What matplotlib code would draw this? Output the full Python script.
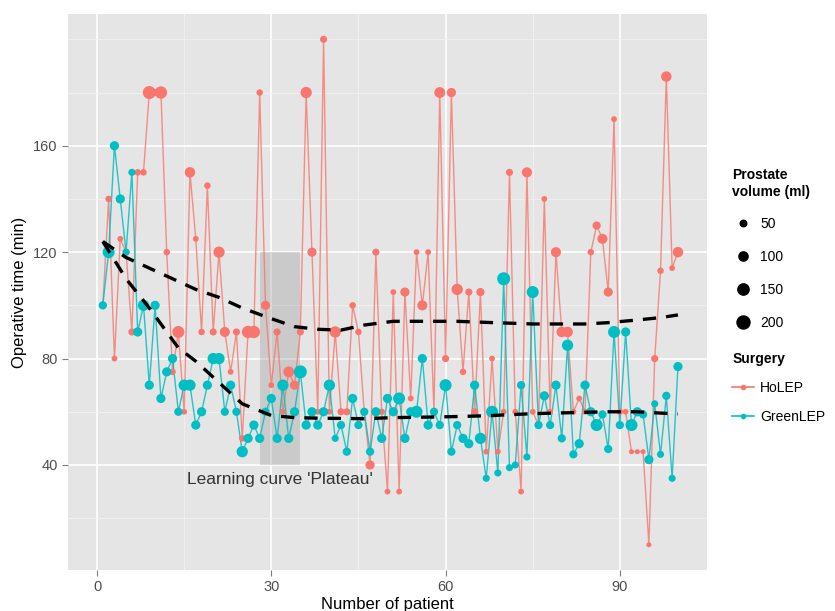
import matplotlib
matplotlib.use("Agg")
import matplotlib.pyplot as plt
from matplotlib.lines import Line2D
import numpy as np

plt.rcParams['font.family'] = ['Liberation Sans', 'DejaVu Sans']

# patient number 1..100
patient = list(range(1, 101))

holep_time = [100, 140, 80, 125, 120, 90, 150, 150, 180, 180,
              180, 120, 75, 90, 60, 150, 125, 90, 145, 90,
              120, 90, 75, 90, 50, 90, 90, 180, 100, 70,
              90, 60, 75, 70, 90, 180, 120, 60, 200, 60,
              90, 60, 60, 100, 90, 60, 40, 120, 60, 30,
              105, 30, 105, 65, 120, 100, 120, 60, 180, 80,
              180, 106, 75, 105, 60, 105, 45, 80, 45, 60,
              150, 60, 30, 150, 60, 55, 140, 60, 120, 90,
              90, 60, 65, 60, 120, 130, 125, 105, 170, 60,
              60, 45, 45, 45, 10, 80, 113, 186, 114, 120]
holep_vol = [60, 50, 40, 40, 60, 60, 50, 50, 200, 60,
             180, 50, 50, 170, 40, 130, 40, 50, 50, 60,
             150, 120, 40, 60, 50, 180, 180, 50, 100, 40,
             60, 40, 140, 100, 60, 150, 100, 40, 60, 40,
             150, 60, 60, 50, 50, 40, 100, 60, 50, 40,
             40, 40, 100, 40, 40, 120, 40, 40, 140, 60,
             100, 150, 50, 60, 60, 80, 40, 40, 40, 40,
             60, 40, 40, 120, 40, 40, 40, 40, 120, 130,
             130, 40, 40, 40, 50, 80, 120, 100, 40, 50,
             40, 30, 30, 30, 30, 60, 50, 130, 40, 130]

green_time = [100, 120, 160, 140, 120, 150, 90, 100, 70, 100,
              65, 75, 80, 60, 70, 70, 55, 60, 70, 80,
              80, 60, 70, 60, 45, 50, 55, 50, 60, 65,
              50, 70, 50, 60, 75, 55, 60, 55, 60, 70,
              50, 55, 45, 65, 55, 60, 45, 60, 50, 65,
              60, 65, 50, 60, 60, 80, 55, 60, 55, 70,
              45, 55, 50, 48, 70, 50, 35, 60, 37, 110,
              39, 40, 70, 43, 105, 55, 66, 55, 70, 50,
              85, 44, 48, 70, 60, 55, 59, 46, 90, 55,
              90, 55, 60, 59, 42, 63, 44, 66, 35, 77]
green_vol = [80, 170, 100, 100, 60, 60, 100, 150, 100, 100,
             100, 100, 100, 80, 150, 150, 100, 100, 100, 150,
             150, 80, 100, 80, 150, 100, 100, 100, 80, 100,
             100, 150, 100, 100, 200, 100, 100, 100, 100, 150,
             60, 80, 80, 100, 80, 80, 80, 100, 100, 100,
             100, 170, 100, 100, 170, 100, 100, 80, 80, 170,
             80, 80, 100, 100, 100, 150, 60, 170, 60, 200,
             60, 60, 80, 60, 170, 80, 100, 80, 100, 80,
             150, 80, 100, 100, 100, 170, 80, 80, 170, 80,
             100, 170, 100, 80, 100, 60, 60, 80, 60, 100]

# dashed smoothing curves
smooth_x = [1, 5, 9, 14, 17, 21, 25, 30, 34, 38, 42, 46, 51, 57, 62, 67, 75, 84, 88, 93, 97, 100]
holep_smooth = [124, 118, 114, 109, 106, 103, 99, 95, 92, 91, 90.7, 92.6, 94, 94, 94, 93.6, 93, 93, 93.5, 94.5, 95.4, 96.4]
green_smooth = [124, 110, 99, 84, 79, 71, 63, 58.6, 57.8, 57.6, 57.5, 57.4, 57.8, 58, 58.2, 58.5, 59.3, 59.8, 60, 60, 59.5, 59.2]

plateau_x = (28, 35)
plateau_y = (40, 120)

pink = '#F8766D'
teal = '#00BFC4'


def size_of(vol):
    return 0.44 * np.asarray(vol, dtype=float)


fig = plt.figure(figsize=(8.35, 6.11), dpi=100)
ax = fig.add_axes([0.0814, 0.067, 0.7653, 0.910])
ax.set_facecolor('#e5e5e5')

ax.set_xlim(-5, 105)
ax.set_ylim(0.5, 209.5)
ax.set_xticks([0, 30, 60, 90])
ax.set_xticks([15, 45, 75], minor=True)
ax.set_yticks([40, 80, 120, 160])
ax.set_yticks([20, 60, 100, 140, 180, 200], minor=True)
ax.grid(which='major', color='white', linewidth=1.2)
ax.grid(which='minor', color='#f2f2f2', linewidth=0.6)
ax.set_axisbelow(True)
for s in ax.spines.values():
    s.set_visible(False)
ax.tick_params(which='major', length=4, color='#7f7f7f', labelsize=10.5, labelcolor='#4d4d4d')
ax.tick_params(which='minor', length=0)

ax.add_patch(plt.Rectangle((plateau_x[0], plateau_y[0]), plateau_x[1] - plateau_x[0],
                           plateau_y[1] - plateau_y[0], facecolor='#9a9a9a', alpha=0.35,
                           edgecolor='none', zorder=1))

ax.plot(patient, holep_time, color=pink, linewidth=1.0, alpha=0.8, zorder=2)
ax.scatter(patient, holep_time, s=size_of(holep_vol), color=pink, zorder=3, linewidths=0)
ax.plot(patient, green_time, color=teal, linewidth=1.0, alpha=0.85, zorder=2)
ax.scatter(patient, green_time, s=size_of(green_vol), color=teal, zorder=3, linewidths=0)

ax.plot(smooth_x, holep_smooth, color='black', linestyle=(0, (4, 3)), linewidth=2.4, zorder=4)
ax.plot(smooth_x, green_smooth, color='black', linestyle=(0, (4, 3)), linewidth=2.4, zorder=4)

ax.text(31.5, 34.5, "Learning curve 'Plateau'", ha='center', va='center', fontsize=12.5, color='#333333', zorder=5)

ax.set_xlabel('Number of patient', fontsize=12, labelpad=2)
ax.set_ylabel('Operative time (min)', fontsize=12, labelpad=4)

# legends
vol_levels = [50, 100, 150, 200]
size_handles = [Line2D([], [], marker='o', linestyle='', color='black',
                       markersize=np.sqrt(size_of(v))) for v in vol_levels]
leg1 = fig.legend(size_handles, [str(v) for v in vol_levels], title='Prostate\nvolume (ml)',
                  loc='upper left', bbox_to_anchor=(0.862, 0.745), frameon=False,
                  fontsize=10, title_fontsize=10, labelspacing=1.35, handletextpad=0.4,
                  handlelength=1.6, alignment='left')
leg1.get_title().set_fontweight('bold')

surg_handles = [Line2D([], [], color=pink, marker='o', markersize=3, linewidth=1.2),
                Line2D([], [], color=teal, marker='o', markersize=3, linewidth=1.2)]
leg2 = fig.legend(surg_handles, ['HoLEP', 'GreenLEP'], title='Surgery',
                  loc='upper left', bbox_to_anchor=(0.862, 0.445), frameon=False,
                  fontsize=10, title_fontsize=10, labelspacing=1.1, handlelength=1.6,
                  handletextpad=0.4, alignment='left')
leg2.get_title().set_fontweight('bold')

fig.savefig('out.png', dpi=100)
